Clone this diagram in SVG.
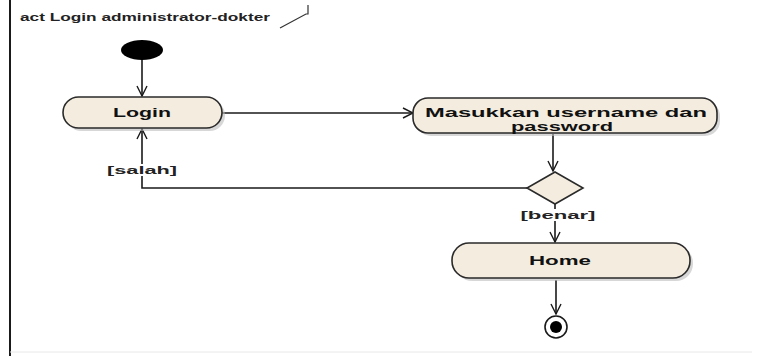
<svg xmlns="http://www.w3.org/2000/svg" width="758" height="358" viewBox="0 0 758 358">
<style>
.node{fill:#F4EDDF;stroke:#2a2a2a;stroke-width:1.6}
.shadow{fill:#bdbdbd;opacity:0.6}
.lbl{font-family:"Liberation Sans",Arial,sans-serif;font-size:13px;font-weight:bold;fill:#111;text-anchor:middle}
.guard{font-family:"Liberation Sans",Arial,sans-serif;font-size:10px;font-weight:bold;fill:#222;text-anchor:middle}
.edge{fill:none;stroke:#1a1a1a;stroke-width:1.6}
</style>
<defs>
<marker id="open" viewBox="0 0 12 12" refX="11" refY="6" markerWidth="12" markerHeight="12" markerUnits="userSpaceOnUse" orient="auto">
<path d="M1,1 L11,6 L1,11" fill="none" stroke="#1a1a1a" stroke-width="1.4"/>
</marker>
</defs>
<rect width="758" height="358" fill="#ffffff"/>
<g id="frame">
<line x1="10" y1="0" x2="10" y2="356" stroke="#1a1a1a" stroke-width="2"/>
<line x1="10" y1="352" x2="752" y2="352" stroke="#e8e8e8" stroke-width="1"/>
<text x="20" y="21" font-family="Liberation Sans,Arial,sans-serif" font-size="11" font-weight="bold" fill="#222" textLength="250" lengthAdjust="spacingAndGlyphs">act Login administrator-dokter</text>
<polyline points="280,28 306,14 308,14 308,5" fill="none" stroke="#333" stroke-width="1.2"/>
</g>
<g id="edges">
<line class="edge" x1="142" y1="60" x2="142" y2="96" marker-end="url(#open)"/>
<line class="edge" x1="222" y1="113" x2="413" y2="113" marker-end="url(#open)"/>
<line class="edge" x1="553" y1="134" x2="553" y2="171" marker-end="url(#open)"/>
<polyline class="edge" points="527,188 142,188 142,129" marker-end="url(#open)"/>
<line class="edge" x1="555" y1="204" x2="555" y2="242" marker-end="url(#open)"/>
<line class="edge" x1="556" y1="280" x2="556" y2="314" marker-end="url(#open)"/>
</g>
<g id="start">
<ellipse cx="142" cy="50" rx="21" ry="10" fill="#000"/>
</g>
<g id="login">
<rect class="shadow" x="66" y="100" width="159" height="31" rx="15.5"/>
<rect class="node" x="63" y="97" width="159" height="31" rx="15.5"/>
<text class="lbl" x="142" y="117" textLength="58" lengthAdjust="spacingAndGlyphs">Login</text>
</g>
<g id="masukkan">
<rect class="shadow" x="416" y="101" width="304" height="35" rx="15"/>
<rect class="node" x="413" y="98" width="304" height="35" rx="15"/>
<text class="lbl" x="566" y="117" textLength="282" lengthAdjust="spacingAndGlyphs">Masukkan username dan</text>
<text class="lbl" x="562" y="131" textLength="102" lengthAdjust="spacingAndGlyphs">password</text>
</g>
<g id="decision">
<polygon class="node" points="555,172 583,188 555,204 527,188"/>
</g>
<g id="guard-salah">
<rect x="106" y="164" width="72" height="12" fill="#fff"/>
<text class="guard" x="142" y="174" textLength="70" lengthAdjust="spacingAndGlyphs">[salah]</text>
</g>
<g id="guard-benar">
<rect x="520" y="209" width="77" height="12" fill="#fff"/>
<text class="guard" x="558" y="219" textLength="75" lengthAdjust="spacingAndGlyphs">[benar]</text>
</g>
<g id="home">
<rect class="shadow" x="455" y="246" width="238" height="35" rx="17"/>
<rect class="node" x="452" y="243" width="238" height="35" rx="17"/>
<text class="lbl" x="560" y="265" textLength="62" lengthAdjust="spacingAndGlyphs">Home</text>
</g>
<g id="final">
<circle cx="556" cy="327" r="11" fill="#fff" stroke="#1a1a1a" stroke-width="1.6"/>
<circle cx="556" cy="327" r="6" fill="#000"/>
</g>
</svg>
